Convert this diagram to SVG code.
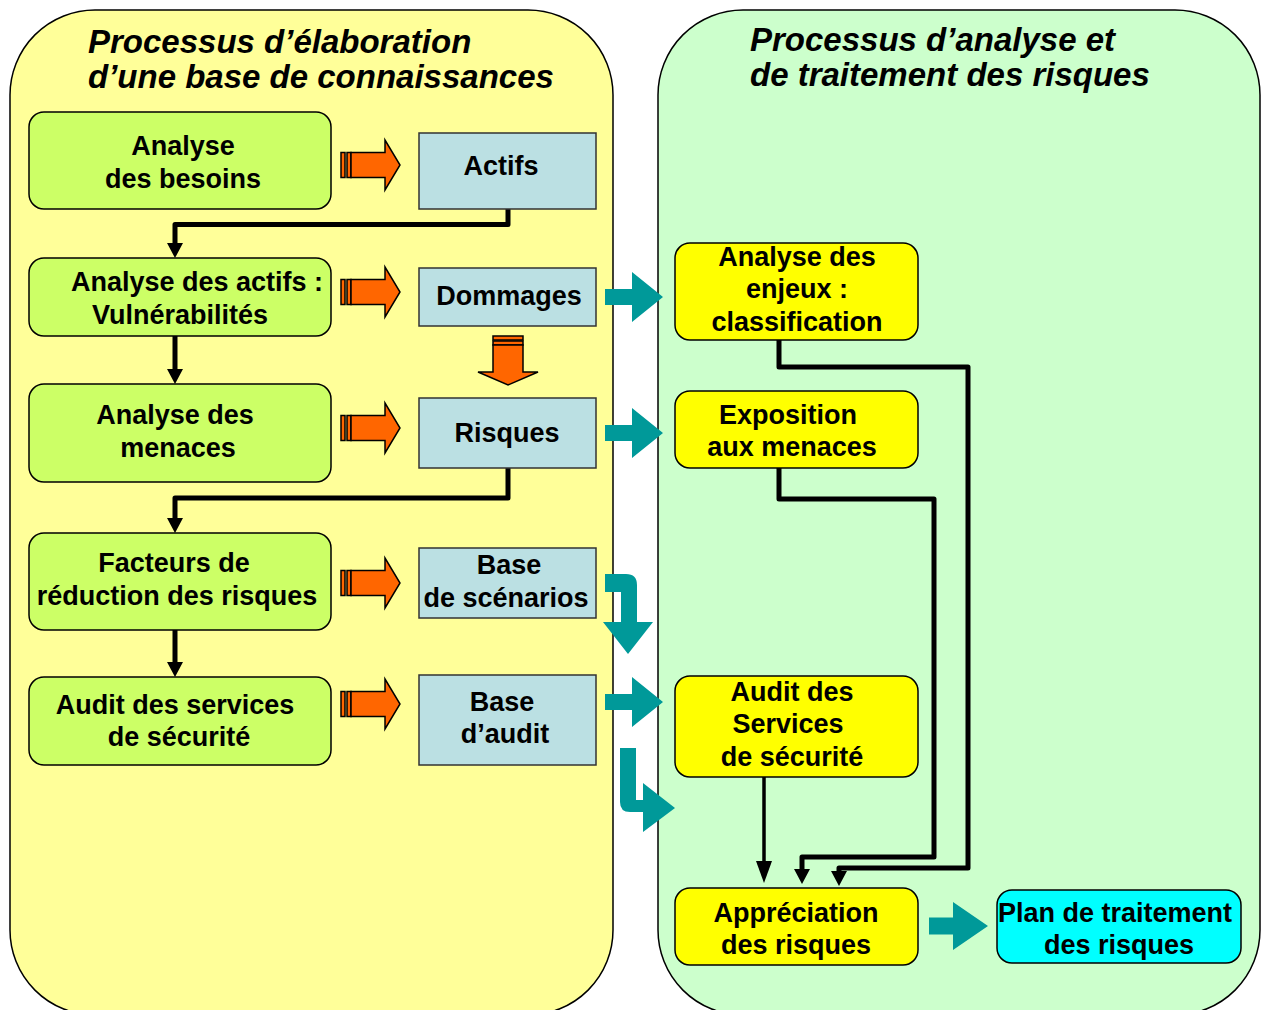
<svg xmlns="http://www.w3.org/2000/svg" width="1262" height="1010" viewBox="0 0 1262 1010">
<style>
.t{font-family:"Liberation Sans",Arial,sans-serif;font-weight:bold;font-size:27px;text-anchor:middle;fill:#000}
.title{font-family:"Liberation Sans",Arial,sans-serif;font-weight:bold;font-style:italic;font-size:33px;fill:#000}
.green{fill:#CCFF66;stroke:#000;stroke-width:1.5}
.blue{fill:#BBE0E3;stroke:#333;stroke-width:1.5}
.yellow{fill:#FFFF00;stroke:#000;stroke-width:1.5}
.cyan{fill:#00FFFF;stroke:#000;stroke-width:1.5}
.orange{fill:#FF6600;stroke:#000;stroke-width:1.5;stroke-linejoin:miter}
.teal{fill:#009999;stroke:none}
.conn{fill:none;stroke:#000;stroke-width:5;stroke-linejoin:round}
.conn2{fill:none;stroke:#000;stroke-width:3.5}
</style>
<defs>
<marker id="ah" markerUnits="userSpaceOnUse" markerWidth="17" markerHeight="18" refX="0" refY="8" orient="auto" overflow="visible">
<path d="M0,0 L15,8 L0,16 Z" fill="#000"/>
</marker>
<marker id="ah2" markerUnits="userSpaceOnUse" markerWidth="24" markerHeight="18" refX="0" refY="8" orient="auto" overflow="visible">
<path d="M0,0 L22,8 L0,16 Z" fill="#000"/>
</marker>
<g id="oarrow">
<rect x="0" y="-12.5" width="4" height="25" class="orange"/>
<rect x="6" y="-12.5" width="4" height="25" class="orange"/>
<path class="orange" d="M10,-12.5 H44 V-25 L59,0 L44,25 V12.5 H10 Z"/>
</g>
<path id="tarrow" class="teal" d="M0,-8 H27 V-25 L58,0 L27,25 V8 H0 Z"/>
</defs>

<g id="panel-left">
<rect x="10" y="10" width="603" height="1005" rx="85" ry="85" fill="#FFFF99" stroke="#000" stroke-width="1.5"/>
<text class="title" x="88" y="53">Processus d’élaboration</text>
<text class="title" x="88" y="88">d’une base de connaissances</text>
</g>
<g id="panel-right">
<rect x="658" y="10" width="602" height="1005" rx="85" ry="85" fill="#CCFFCC" stroke="#000" stroke-width="1.5"/>
<text class="title" x="750" y="51">Processus d’analyse et</text>
<text class="title" x="750" y="86">de traitement des risques</text>
</g>

<g id="connectors">
<path class="conn" d="M508,209 V224.5 H175 V243" marker-end="url(#ah)"/>
<path class="conn" d="M175,336 V369" marker-end="url(#ah)"/>
<path class="conn" d="M508,468 V498 H175 V518" marker-end="url(#ah)"/>
<path class="conn" d="M175,630 V662" marker-end="url(#ah)"/>
<path class="conn" d="M779,340 V367 H968 V868 H839 V871" marker-end="url(#ah)"/>
<path class="conn" d="M779,468 V499 H934 V857 H802 V869" marker-end="url(#ah)"/>
<path class="conn2" d="M764,777 V861" marker-end="url(#ah2)"/>
<use href="#oarrow" transform="translate(341,165)"/>
<use href="#oarrow" transform="translate(341,292)"/>
<use href="#oarrow" transform="translate(341,428)"/>
<use href="#oarrow" transform="translate(341,583)"/>
<use href="#oarrow" transform="translate(341,704)"/>
<g id="orange-down">
<rect x="493" y="336" width="30" height="4" class="orange"/>
<rect x="493" y="341" width="30" height="4" class="orange"/>
<path class="orange" d="M493,345 H523 V372 H538 L508,385 L478,372 H493 Z"/>
</g>
<use href="#tarrow" transform="translate(605,297)"/>
<use href="#tarrow" transform="translate(605,433)"/>
<use href="#tarrow" transform="translate(605,702)"/>
<path class="teal" d="M605,574 H626 Q637,574 637,585 V622 H653 L628,654 L603,622 H621 V592 H605 Z"/>
<path class="teal" d="M620,748 H636 V800 H643 V783 L675,808 L643,832 V812 H630 Q620,812 620,802 Z"/>
<path class="teal" d="M929,917.5 H953 V902 L988,926 L953,950 V934.5 H929 Z"/>
</g>

<g id="n-besoins">
<rect class="green" x="29" y="112" width="302" height="97" rx="15"/>
<text class="t" x="183" y="155">Analyse</text>
<text class="t" x="183" y="188">des besoins</text>
</g>
<g id="n-actifs-analyse">
<rect class="green" x="29" y="258" width="302" height="78" rx="15"/>
<text class="t" x="197" y="291">Analyse des actifs :</text>
<text class="t" x="180" y="324">Vulnérabilités</text>
</g>
<g id="n-menaces">
<rect class="green" x="29" y="384" width="302" height="98" rx="15"/>
<text class="t" x="175" y="424">Analyse des</text>
<text class="t" x="178" y="457">menaces</text>
</g>
<g id="n-facteurs">
<rect class="green" x="29" y="533" width="302" height="97" rx="15"/>
<text class="t" x="174" y="572">Facteurs de</text>
<text class="t" x="177" y="605">réduction des risques</text>
</g>
<g id="n-audit-services">
<rect class="green" x="29" y="677" width="302" height="88" rx="15"/>
<text class="t" x="175" y="714">Audit des services</text>
<text class="t" x="179" y="746">de sécurité</text>
</g>

<g id="b-actifs">
<rect class="blue" x="419" y="133" width="177" height="76"/>
<text class="t" x="501" y="175">Actifs</text>
</g>
<g id="b-dommages">
<rect class="blue" x="419" y="268" width="177" height="58"/>
<text class="t" x="509" y="305">Dommages</text>
</g>
<g id="b-risques">
<rect class="blue" x="419" y="398" width="177" height="70"/>
<text class="t" x="507" y="442">Risques</text>
</g>
<g id="b-scenarios">
<rect class="blue" x="419" y="548" width="177" height="70"/>
<text class="t" x="509" y="574">Base</text>
<text class="t" x="506" y="607">de scénarios</text>
</g>
<g id="b-audit">
<rect class="blue" x="419" y="675" width="177" height="90"/>
<text class="t" x="502" y="711">Base</text>
<text class="t" x="505" y="743">d’audit</text>
</g>

<g id="y-enjeux">
<rect class="yellow" x="675" y="243" width="243" height="97" rx="15"/>
<text class="t" x="797" y="266">Analyse des</text>
<text class="t" x="797" y="298">enjeux :</text>
<text class="t" x="797" y="331">classification</text>
</g>
<g id="y-exposition">
<rect class="yellow" x="675" y="391" width="243" height="77" rx="15"/>
<text class="t" x="788" y="424">Exposition</text>
<text class="t" x="792" y="456">aux menaces</text>
</g>
<g id="y-audit">
<rect class="yellow" x="675" y="676" width="243" height="101" rx="15"/>
<text class="t" x="792" y="701">Audit des</text>
<text class="t" x="788" y="733">Services</text>
<text class="t" x="792" y="766">de sécurité</text>
</g>
<g id="y-appreciation">
<rect class="yellow" x="675" y="888" width="243" height="77" rx="15"/>
<text class="t" x="796" y="922">Appréciation</text>
<text class="t" x="796" y="954">des risques</text>
</g>
<g id="c-plan">
<rect class="cyan" x="997" y="890" width="244" height="73" rx="15"/>
<text class="t" x="1115" y="922">Plan de traitement</text>
<text class="t" x="1119" y="954">des risques</text>
</g>
</svg>
